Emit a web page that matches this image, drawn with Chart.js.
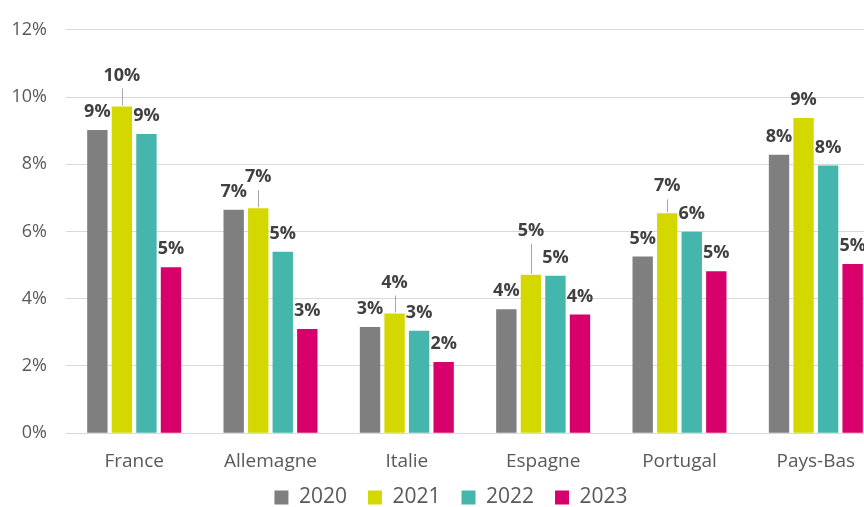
<!DOCTYPE html>
<html>
<head>
<meta charset="utf-8">
<script src="https://cdn.jsdelivr.net/npm/chart.js@4"></script>
<style>
  html, body { margin: 0; padding: 0; background: #fff; overflow: hidden; }
  #wrap { width: 864px; height: 507px; overflow: hidden; }
</style>
</head>
<body>
<div id="wrap"><canvas id="myChart" width="884" height="534"></canvas></div>
<script>
// categories (pays) et valeurs en %
const pays = ['France', 'Allemagne', 'Italie', 'Espagne', 'Portugal', 'Pays-Bas'];
const annees = ['2020', '2021', '2022', '2023'];
const v2020 = [9.02, 6.65, 3.16, 3.69, 5.26, 8.28];
const v2021 = [9.72, 6.69, 3.56, 4.71, 6.54, 9.38];
const v2022 = [8.90, 5.40, 3.05, 4.68, 5.99, 7.96];
const v2023 = [4.94, 3.10, 2.12, 3.53, 4.82, 5.03];
const yTicks = [0, 2, 4, 6, 8, 10, 12];

const couleurs = ['#7f7f7f', '#d4d800', '#45b6ac', '#d8006a'];
// décalage des étiquettes 2021 avec trait de rappel (comme dans Excel)
const leaderLift = [31, 31, 31, 44, 27, 0];

const font = "'Open Sans', 'Noto Sans', sans-serif";

// Étiquettes de données
const etiquettes = {
    id: 'etiquettes',
    afterLayout(chart) {
        // rapprocher la légende des étiquettes de l'axe
        const lg = chart.legend;
        lg.left += 9; lg.right += 9;
        lg.top -= 16; lg.bottom -= 16;
    },
    afterDatasetsDraw(chart) {
        const ctx = chart.ctx;
        ctx.save();
        ctx.font = 'bold 18px ' + font;
        ctx.fillStyle = '#404040';
        ctx.textAlign = 'center';
        ctx.textBaseline = 'middle';
        chart.data.datasets.forEach(function(ds, i) {
            const meta = chart.getDatasetMeta(i);
            meta.data.forEach(function(bar, j) {
                let lift = 18;
                const extra = (i === 1) ? leaderLift[j] : 0;
                if (extra > 0) {
                    lift = extra;
                    ctx.strokeStyle = '#a6a6a6';
                    ctx.lineWidth = 1;
                    ctx.beginPath();
                    ctx.moveTo(Math.round(bar.x) + 0.5, bar.y - lift + 13);
                    ctx.lineTo(Math.round(bar.x) + 0.5, bar.y - 1);
                    ctx.stroke();
                }
                ctx.fillText(Math.round(ds.data[j]) + '%', bar.x, bar.y - lift);
            });
        });
        ctx.restore();
    }
};

const ctx = document.getElementById('myChart').getContext('2d');
new Chart(ctx, {
    type: 'bar',
    data: {
        labels: pays,
        datasets: [v2020, v2021, v2022, v2023].map(function(d, i) {
            return {
                label: annees[i],
                data: d,
                backgroundColor: couleurs[i],
                categoryPercentage: 0.72,
                barPercentage: 0.83
            };
        })
    },
    options: {
        responsive: false,
        animation: false,
        layout: { padding: { top: 10, right: 0, left: 0, bottom: 0 } },
        plugins: {
            tooltip: { enabled: false },
            legend: {
                position: 'bottom',
                labels: {
                    boxWidth: 14,
                    boxHeight: 14,
                    padding: 21,
                    color: '#595959',
                    font: { family: font, size: 21 }
                }
            }
        },
        scales: {
            x: {
                grid: { display: false },
                border: { color: '#d9d9d9', width: 1 },
                ticks: { color: '#595959', font: { family: font, size: 19 }, padding: 9 }
            },
            y: {
                min: 0,
                max: 12,
                afterFit: function(scale) { scale.width = 66; },
                afterBuildTicks: function(scale) {
                    scale.ticks = yTicks.map(function(v) { return { value: v }; });
                },
                grid: { color: '#d9d9d9', drawTicks: false },
                border: { display: false },
                ticks: {
                    color: '#595959',
                    font: { family: font, size: 18 },
                    padding: 19,
                    callback: function(v) { return v + '%'; }
                }
            }
        }
    },
    plugins: [etiquettes]
});
</script>
</body>
</html>
